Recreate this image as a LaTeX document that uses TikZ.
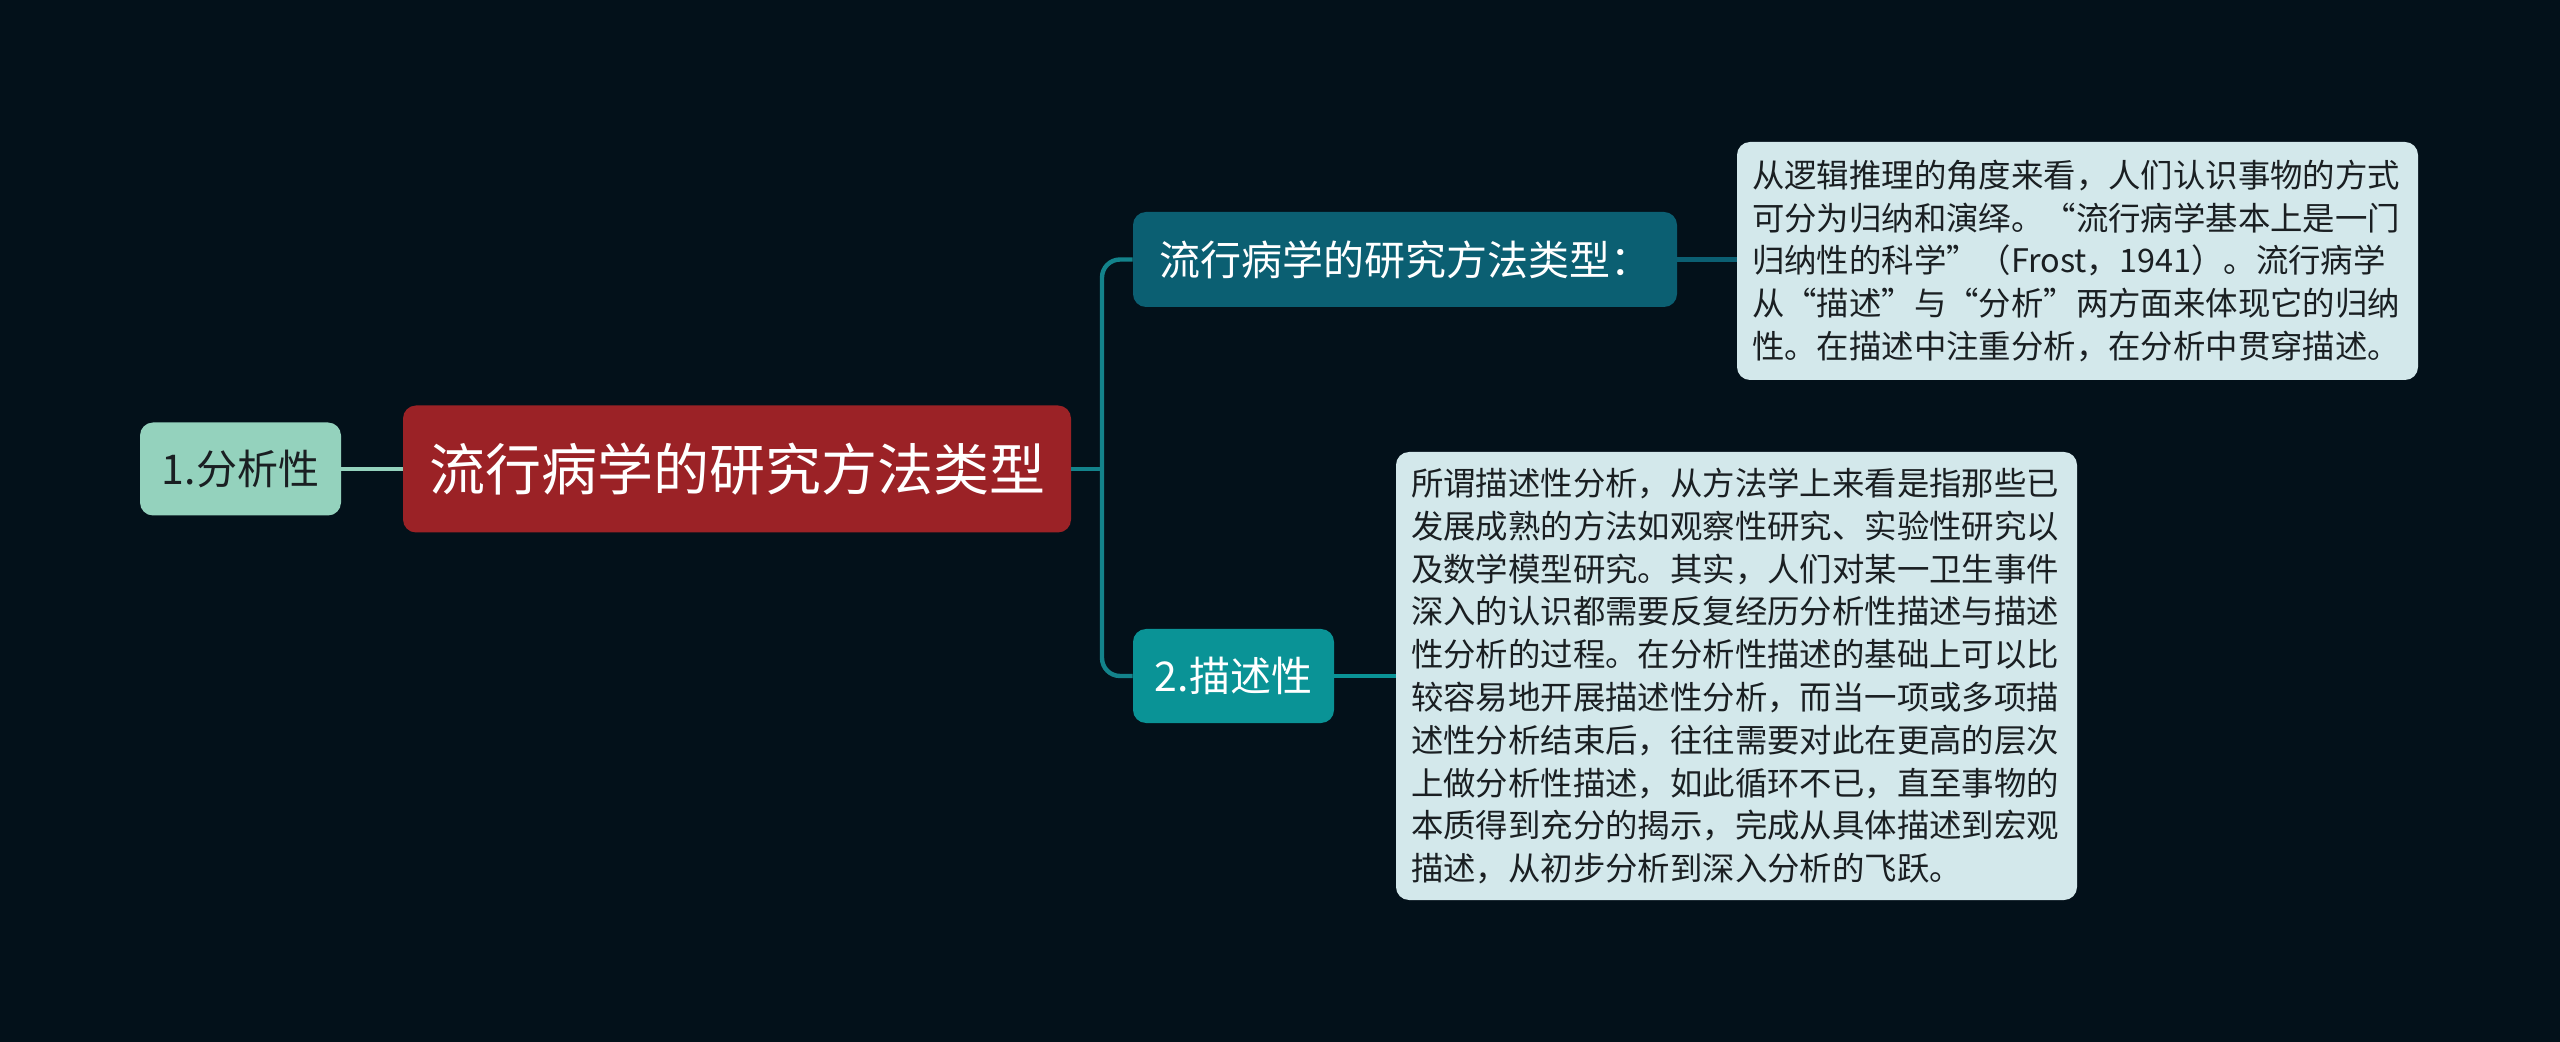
\documentclass[tikz,border=0pt]{standalone}
\usepackage{fontspec}
\setmainfont{Noto Sans CJK SC}
\definecolor{bgc}{HTML}{03111A}
\definecolor{rootc}{HTML}{9B2226}
\definecolor{mintc}{HTML}{94D2BD}
\definecolor{darkteal}{HTML}{0B5F72}
\definecolor{tealc}{HTML}{0A9396}
\definecolor{trunkc}{HTML}{13838B}
\definecolor{notec}{HTML}{D3E8EB}
\definecolor{inkc}{HTML}{1A1F22}
\begin{document}
\begin{tikzpicture}[x=0.5pt,y=-0.5pt,
  boxbase/.style={rectangle,rounded corners=6.5pt,inner sep=0pt,align=center},
  rootbox/.style={boxbase,fill=rootc,text=white,minimum width=334pt,minimum height=63.5pt,
    font=\fontsize{28}{32}\selectfont},
  leftbox/.style={boxbase,fill=mintc,text=inkc,minimum width=100.5pt,minimum height=46.5pt,
    font=\fontsize{20.5}{24}\selectfont},
  topbox/.style={boxbase,fill=darkteal,text=white,minimum width=272pt,minimum height=47.5pt,
    font=\fontsize{20.5}{24}\selectfont},
  subbox/.style={boxbase,fill=tealc,text=white,minimum width=100.5pt,minimum height=47pt,
    font=\fontsize{20.5}{24}\selectfont},
  notebox/.style={rectangle,rounded corners=6.5pt,fill=notec,text=inkc,inner xsep=7.5pt,inner ysep=0pt,
    text width=325.5pt,align=left,font=\fontsize{16.2}{21.4}\selectfont},
  conn/.style={line width=2.2pt}
]
\fill[bgc] (0,0) rectangle (2560,1042);

\node[rootbox] (root) at (737,469) {流行病学的研究方法类型};
\node[leftbox] (left) at (240.5,469) {1.分析性};
\node[topbox] (c1) at (1405,259.5) {流行病学的研究方法类型：};
\node[subbox] (c2) at (1233.5,676) {2.描述性};
\node[notebox,minimum height=119pt] (n1) at (2077.5,261) {从逻辑推理的角度来看，人们认识事物的方式\\
可分为归纳和演绎。“流行病学基本上是一门\\
归纳性的科学”（Frost，1941）。流行病学\\
从“描述”与“分析”两方面来体现它的归纳\\
性。在描述中注重分析，在分析中贯穿描述。};
\node[notebox,minimum height=224pt] (n2) at (1736.5,676) {所谓描述性分析，从方法学上来看是指那些已\\
发展成熟的方法如观察性研究、实验性研究以\\
及数学模型研究。其实，人们对某一卫生事件\\
深入的认识都需要反复经历分析性描述与描述\\
性分析的过程。在分析性描述的基础上可以比\\
较容易地开展描述性分析，而当一项或多项描\\
述性分析结束后，往往需要对此在更高的层次\\
上做分析性描述，如此循环不已，直至事物的\\
本质得到充分的揭示，完成从具体描述到宏观\\
描述，从初步分析到深入分析的飞跃。};

\coordinate (j) at (1102,469);
\draw[conn,mintc] (left.east) -- (root.west);
\draw[conn,trunkc] (root.east) -- (j);
\draw[conn,trunkc,rounded corners=9pt] (c1.west) -| (j) |- (c2.west);
\draw[conn,darkteal] (c1.east) -- (n1.west |- c1.east);
\draw[conn,tealc] (c2.east) -- (n2.west);
\end{tikzpicture}
\end{document}
